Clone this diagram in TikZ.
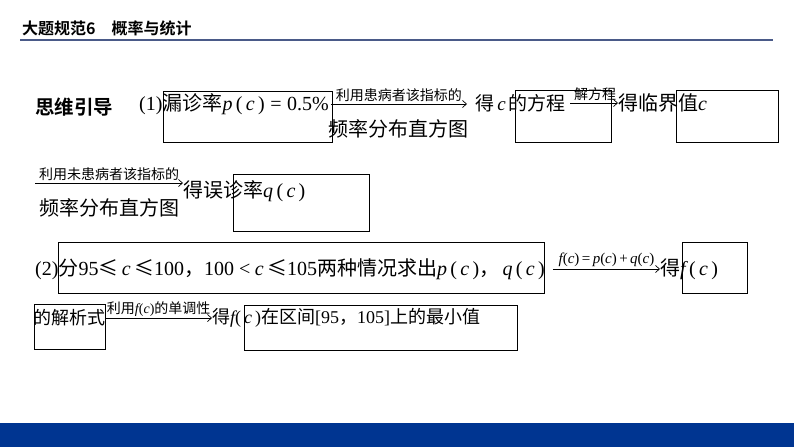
\documentclass[tikz,border=0pt]{standalone}
\usepackage{fontspec}
\setmainfont{Liberation Serif}
\newfontfamily\zhfont{Noto Sans CJK SC}[BoldFont={Noto Sans CJK SC Bold}]
\usetikzlibrary{arrows.meta}
\definecolor{bandblue}{HTML}{003591}
\definecolor{rulegray}{HTML}{4A5A88}
\newcommand\tm[1]{{\rmfamily #1}}
\newcommand\vi[1]{{\rmfamily\itshape #1}}
\newcommand\fx[1]{\vi{#1}\tm{\,(\,}\vi{c}\tm{\,)}}
\begin{document}
\begin{tikzpicture}[
    x=1pt, y=-1pt,
    % 定義樣式
    text line/.style={anchor=west, inner sep=0pt, font=\zhfont\fontsize{18}{22}\selectfont},
    big text/.style={text line, font=\zhfont\fontsize{20}{24}\selectfont},
    frame box/.style={draw, line width=0.8pt, inner sep=0pt, anchor=north west},
    small label/.style={inner sep=1.5pt, font=\zhfont\fontsize{14}{16}\selectfont},
    under label/.style={below=15pt, inner sep=0pt, font=\zhfont\fontsize{20}{24}\selectfont},
    flow arrow/.style={-{Straight Barb[length=4pt,width=7pt]}, line width=0.7pt}
]
    \useasboundingbox (0,0) rectangle (794,447);

    % --- 1. 標題與底條 ---
    \node[anchor=west, inner sep=0pt, font=\zhfont\bfseries\fontsize{16}{18}\selectfont] (title) at (22,28) {大题规范6\quad 概率与统计};
    \draw[rulegray, line width=1.6pt] (20,40) -- (773,40);
    \fill[bandblue] (0,423) rectangle (794,447);

    % --- 2. 第一行 ---
    \node[text line, font=\zhfont\bfseries\fontsize{19.5}{22}\selectfont] (guide) at (35,107) {思维引导};
    \node[big text] (p1) at (139,104) {\tm{(1)}漏诊率\fx{p}\tm{\;=\;0.5\%}};
    \node[text line, font=\zhfont\fontsize{19}{22}\selectfont] (eqn) at (475,103) {得\,\vi{c}\,的方程};
    \node[big text] (crit) at (618,103) {得临界值\vi{c}};

    \node[frame box, minimum width=169, minimum height=51] (b1) at (163,91) {};
    \node[frame box, minimum width=96, minimum height=52] (b2) at (515,90) {};
    \node[frame box, minimum width=102, minimum height=52] (b3) at (676,90) {};

    \draw[flow arrow] ([xshift=2pt]p1.east) -- node[above, small label] {利用患病者该指标的}
        node[under label] {频率分布直方图} ([xshift=-8pt]p1.east -| eqn.west);
    \draw[flow arrow] ([xshift=4pt]eqn.east) -- node[above, small label, xshift=1pt] {解方程} (eqn.east -| crit.west);

    % --- 3. 第二行 ---
    \coordinate (s2) at (35,183);
    \node[big text] (miss) at (183,191) {得误诊率\fx{q}};
    \node[frame box, minimum width=136, minimum height=57] (b4) at (233,174) {};

    \draw[flow arrow] (s2) -- node[above, small label] {利用未患病者该指标的}
        node[under label] {频率分布直方图} (s2 -| miss.west);

    % --- 4. 第三行 ---
    \node[big text] (case) at (35,269) {\tm{(2)}分\tm{95}≤\,\vi{c}\,≤\tm{100}，\tm{100 <} \vi{c}\,≤\tm{105}两种情况求出\fx{p}，\,\fx{q}};
    \node[big text] (fsum) at (660,269) {得\fx{f}};
    \node[frame box, minimum width=486, minimum height=51] (b5) at (58,242) {};
    \node[frame box, minimum width=65, minimum height=51] (b6) at (682,242) {};

    \draw[flow arrow] ([xshift=8pt]case.east) -- node[above, small label, font=\rmfamily\fontsize{15}{17}\selectfont]
        {\vi{f}(\vi{c})$\,$=$\,$\vi{p}(\vi{c})$\,$+$\,$\vi{q}(\vi{c})} (case.east -| fsum.west);

    % --- 5. 第四行 ---
    \node[text line] (expr) at (33,318) {的解析式};
    \node[text line] (fmin) at (212,318) {得\vi{f}\tm{(\,}\vi{c}\tm{\,)}在区间\tm{[95}，\tm{105]}上的最小值};
    \node[frame box, minimum width=71, minimum height=45] (b7) at (34,304) {};
    \node[frame box, minimum width=273, minimum height=45] (b8) at (244,305) {};

    \draw[flow arrow] (expr.east) -- node[above, small label] {利用\vi{f}\tm{(}\vi{c}\tm{)}的单调性} (expr.east -| fmin.west);

\end{tikzpicture}
\end{document}
